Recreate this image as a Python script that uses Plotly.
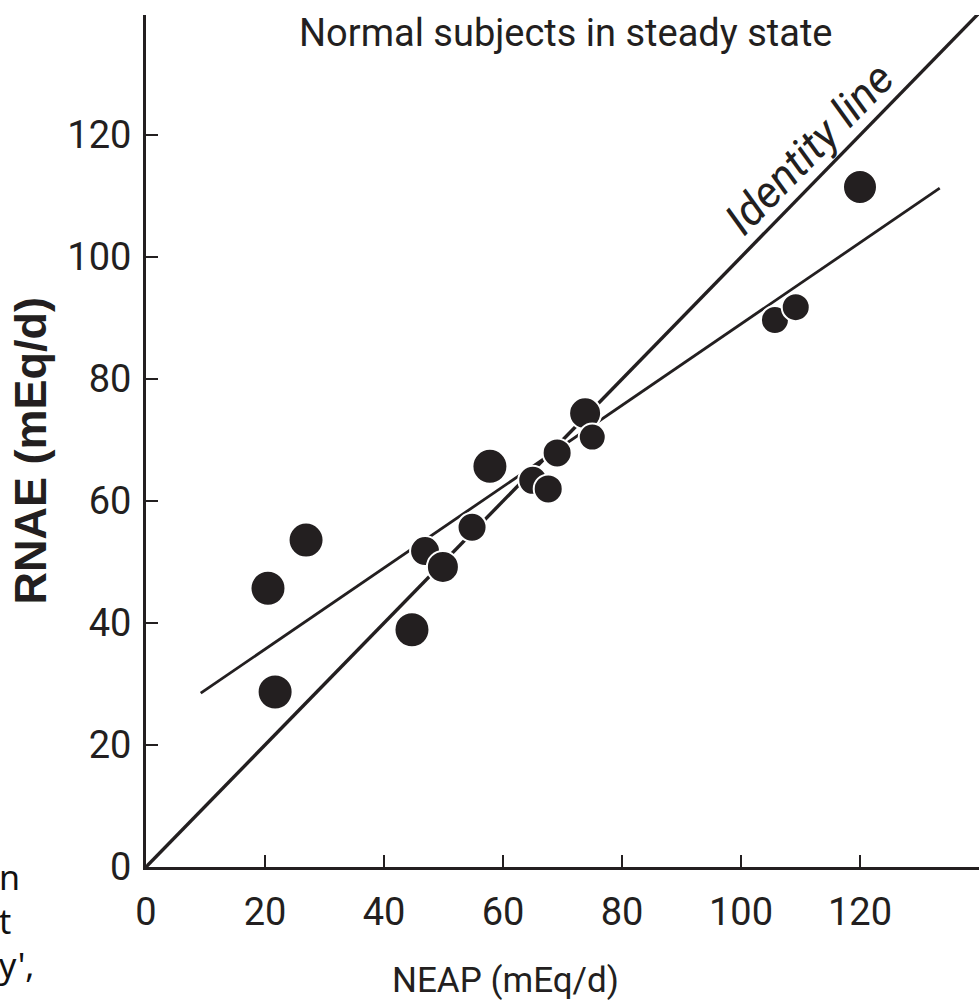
import plotly.graph_objects as go

# ---- data ----
neap = [20.5, 21.7, 26.9, 44.7, 46.9, 49.9, 54.8, 57.8, 65.0, 67.6, 69.1, 73.8, 75.0, 105.7, 109.2, 120.0]
rnae = [45.7, 28.7, 53.6, 38.9, 51.8, 49.2, 55.7, 65.7, 63.4, 62.0, 67.9, 74.4, 70.5, 89.7, 91.8, 111.5]

identity_x = [0, 140]
identity_y = [0, 140]

fit_x = [9.2, 133.4]
fit_y = [28.5, 111.3]

tick_vals = [0, 20, 40, 60, 80, 100, 120]
tick_text = ["0", "20", "40", "60", "80", "100", "120"]

title_text = "Normal subjects in steady state"
x_title = "NEAP (mEq/d)"
y_title = "RNAE (mEq/d)"
identity_label = "Identity line"
side_fragments = ["n", "t", "y',"]

# ---- styles ----
marker_sizes = [35, 35, 35, 35, 30, 32, 29, 35, 29, 29, 29, 32, 27, 28, 28, 34]
INK = "#231f20"
FONT = "Roboto, Liberation Sans, sans-serif"

fig = go.Figure()

fig.add_trace(go.Scatter(x=identity_x, y=identity_y, mode="lines",
                         line=dict(color=INK, width=3.4), hoverinfo="skip"))
fig.add_trace(go.Scatter(x=fit_x, y=fit_y, mode="lines",
                         line=dict(color=INK, width=2.8), hoverinfo="skip"))
fig.add_trace(go.Scatter(x=neap, y=rnae, mode="markers",
                         marker=dict(size=marker_sizes, color=INK, opacity=1,
                                     line=dict(color="white", width=2)),
                         cliponaxis=False, hoverinfo="skip"))

axis_common = dict(
    showgrid=False, zeroline=False, showline=True, linecolor=INK, linewidth=3,
    ticks="inside", ticklen=12, tickwidth=2, tickcolor=INK,
    tickvals=tick_vals, ticktext=tick_text,
    tickfont=dict(family=FONT, size=38, color=INK),
)

fig.update_layout(
    width=979, height=1006,
    margin=dict(l=146, r=0, t=15, b=139),
    paper_bgcolor="white", plot_bgcolor="white",
    showlegend=False,
    xaxis=dict(range=[0, 140], ticklabelstandoff=9, **axis_common),
    yaxis=dict(range=[0, 139.7], ticklabelstandoff=4, **axis_common),
)

annotations = [
    dict(text=title_text, xref="paper", yref="paper", x=0.504, y=0.979,
         xanchor="center", yanchor="middle", showarrow=False,
         font=dict(family=FONT, size=38, color=INK)),
    dict(text=x_title, xref="paper", yref="paper", x=0.431, y=-0.133,
         xanchor="center", yanchor="middle", showarrow=False,
         font=dict(family=FONT, size=35, color=INK)),
    dict(text=y_title, xref="paper", yref="paper", x=-0.139, y=0.489,
         xanchor="center", yanchor="middle", showarrow=False, textangle=-90,
         font=dict(family="Liberation Sans, Arial, sans-serif", size=45, color=INK, weight="bold")),
    dict(text="<i>" + identity_label + "</i>", xref="x", yref="y", x=111.4, y=117.8,
         xanchor="center", yanchor="middle", showarrow=False, textangle=-45.7,
         font=dict(family=FONT, size=44, color=INK)),
    dict(text="<br>".join(side_fragments), xref="paper", yref="paper",
         x=(-3 - 146) / 833, y=(867 - 921) / 852,
         xanchor="left", yanchor="middle", align="left", showarrow=False,
         font=dict(family="Noto Sans, Open Sans, sans-serif", size=34, color="#111")),
]
fig.update_layout(annotations=annotations)

fig.write_html("out.html")
